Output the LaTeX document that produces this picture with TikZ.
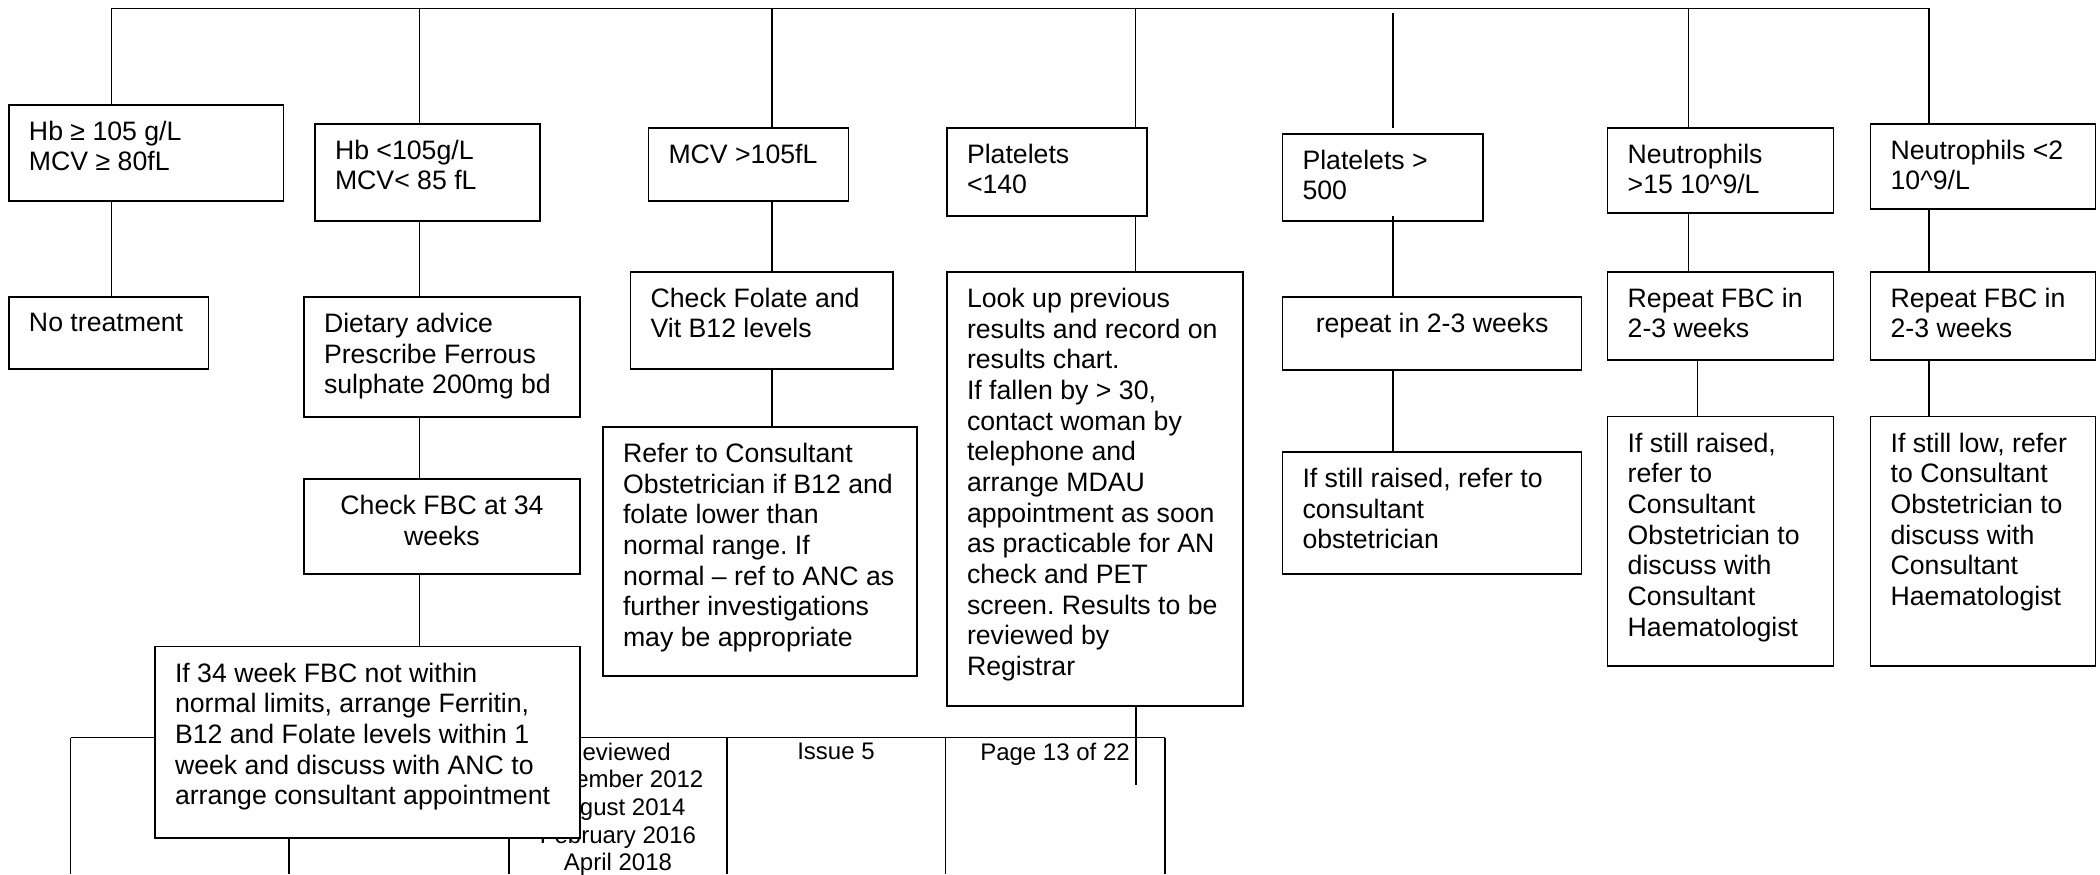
\documentclass[tikz,border=0pt]{standalone}
\usepackage{fontspec}
\setmainfont{Liberation Sans}
\frenchspacing

% a white, outlined box given by its corners (x1,y1) and (x2,y2)
\newcommand\flowbox[5]{%
  \node[box, minimum width={(#4-#2)*0.45pt}, minimum height={(#5-#3)*0.45pt}]
    (#1) at ({(#2+#4)/2},{(#3+#5)/2}) {};}

\begin{document}
\begin{tikzpicture}[x=0.45pt, y=-0.45pt,
  box/.style={rectangle, draw, line width=0.65pt, fill=white, inner sep=0pt, outer sep=0pt},
  txt/.style={inner sep=0pt, outer sep=0pt, align=left, font=\fontsize{12pt}{13.8pt}\selectfont},
  ctxt/.style={txt, align=center},
  foot/.style={inner sep=0pt, outer sep=0pt, align=center, font=\fontsize{10.8pt}{12.4pt}\selectfont},
  link/.style={line width=0.5pt},
  rule/.style={line width=0.65pt}]

\useasboundingbox (0,0) rectangle (2100,874);

% ---- footer table ----
\coordinate (f0) at (70.5,737.7);
\coordinate (f1) at (289,737.7);
\coordinate (f2) at (509,737.7);
\coordinate (f3) at (727,737.7);
\coordinate (f4) at (945.4,737.7);
\coordinate (f5) at (1165,737.7);
\draw[rule] (f0) -- (f5);
\foreach \c in {f0,f1,f2,f3,f4,f5} \draw[rule] (\c) -- (\c |- 0,874);
\node[foot, anchor=north] (rev) at (618,743) {Reviewed\\November 2012\\August 2014\\February 2016\\April 2018};
\node[foot, anchor=north] (iss) at (836,743) {Issue 5};
\node[foot, anchor=north] (pg) at (1055,743) {Page 13 of 22};

% ---- boxes ----
\flowbox{b1}{9}{105}{283.5}{201}
\flowbox{b2}{315}{124}{540}{221}
\flowbox{b3}{648.5}{128}{848.5}{201}
\flowbox{b4}{947}{128}{1147}{216}
\flowbox{b5}{1282.5}{134}{1483}{221}
\flowbox{b6}{1607.7}{128}{1833.7}{213}
\flowbox{b7}{1870.6}{124}{2095.5}{209}

\flowbox{c1}{9}{297}{208.5}{369}
\flowbox{c2}{304}{297}{580}{417}
\flowbox{c3}{630.6}{272}{893}{369}
\flowbox{c4}{947}{272}{1243}{706}
\flowbox{c5}{1282.5}{297}{1581.7}{370}
\flowbox{c6}{1607.7}{272}{1833.7}{360}
\flowbox{c7}{1870.6}{272}{2095.5}{360}

\flowbox{d2}{304}{479}{580}{574}
\flowbox{d3}{603}{427}{917}{676}
\flowbox{d5}{1282.5}{452}{1581.7}{574}
\flowbox{d6}{1607.7}{416.7}{1833.7}{666}
\flowbox{d7}{1870.6}{416.7}{2095.5}{666}

\flowbox{e2}{155}{646.7}{580}{838}

% ---- box texts ----
\node[txt, anchor=north west] (b1t) at ([shift={(20,16)}]b1.north west) {Hb ≥ 105 g/L\\MCV ≥ 80fL};
\node[txt, anchor=north west] (b2t) at ([shift={(20,16)}]b2.north west) {Hb <105g/L\\MCV< 85 fL};
\node[txt, anchor=north west] (b3t) at ([shift={(20,16)}]b3.north west) {MCV >105fL};
\node[txt, anchor=north west] (b4t) at ([shift={(20,16)}]b4.north west) {Platelets\\<140};
\node[txt, anchor=north west] (b5t) at ([shift={(20,16)}]b5.north west) {Platelets >\\500};
\node[txt, anchor=north west] (b6t) at ([shift={(20,16)}]b6.north west) {Neutrophils\\>15 10\^{}9/L};
\node[txt, anchor=north west] (b7t) at ([shift={(20,16)}]b7.north west) {Neutrophils <2\\10\^{}9/L};

\node[txt, anchor=north west] (c1t) at ([shift={(20,16)}]c1.north west) {No treatment};
\node[txt, anchor=north west] (c2t) at ([shift={(20,16)}]c2.north west) {Dietary advice\\Prescribe Ferrous\\sulphate 200mg bd};
\node[txt, anchor=north west] (c3t) at ([shift={(20,16)}]c3.north west) {Check Folate and\\Vit B12 levels};
\node[txt, anchor=north west] (c4t) at ([shift={(20,16)}]c4.north west) {Look up previous\\results and record on\\results chart.\\If fallen by > 30,\\contact woman by\\telephone and\\arrange MDAU\\appointment as soon\\as practicable for AN\\check and PET\\screen. Results to be\\reviewed by\\Registrar};
\node[ctxt, anchor=north] (c5t) at ([shift={(0,16)}]c5.north) {repeat in 2-3 weeks};
\node[txt, anchor=north west] (c6t) at ([shift={(20,16)}]c6.north west) {Repeat FBC in\\2-3 weeks};
\node[txt, anchor=north west] (c7t) at ([shift={(20,16)}]c7.north west) {Repeat FBC in\\2-3 weeks};

\node[ctxt, anchor=north] (d2t) at ([shift={(0,16)}]d2.north) {Check FBC at 34\\weeks};
\node[txt, anchor=north west] (d3t) at ([shift={(20,16)}]d3.north west) {Refer to Consultant\\Obstetrician if B12 and\\folate lower than\\normal range. If\\normal – ref to ANC as\\further investigations\\may be appropriate};
\node[txt, anchor=north west] (d5t) at ([shift={(20,16)}]d5.north west) {If still raised, refer to\\consultant\\obstetrician};
\node[txt, anchor=north west] (d6t) at ([shift={(20,16)}]d6.north west) {If still raised,\\refer to\\Consultant\\Obstetrician to\\discuss with\\Consultant\\Haematologist};
\node[txt, anchor=north west] (d7t) at ([shift={(20,16)}]d7.north west) {If still low, refer\\to Consultant\\Obstetrician to\\discuss with\\Consultant\\Haematologist};

\node[txt, anchor=north west] (e2t) at ([shift={(20,16)}]e2.north west) {If 34 week FBC not within\\normal limits, arrange Ferritin,\\B12 and Folate levels within 1\\week and discuss with ANC to\\arrange consultant appointment};

% ---- top bar and branches ----
\coordinate (t1) at (111.6,8.3);
\coordinate (t2) at (419.6,8.3);
\coordinate (t3) at (772,8.3);
\coordinate (t4) at (1135.7,8.3);
\coordinate (t6) at (1688.5,8.3);
\coordinate (t7) at (1929,8.3);
\draw[rule] (t1) -- (t7);

\draw[link] (t1) -- (t1 |- b1.north);
\draw[link] (b1.south -| t1) -- (c1.north -| t1);

\draw[link] (t2) -- (t2 |- b2.north);
\draw[link] (b2.south -| t2) -- (c2.north -| t2);
\draw[link] (c2.south -| t2) -- (d2.north -| t2);
\draw[link] (d2.south -| t2) -- (e2.north -| t2);

\draw[link] (t3) -- (t3 |- b3.north);
\draw[link] (b3.south -| t3) -- (c3.north -| t3);
\draw[link] (c3.south -| t3) -- (d3.north -| t3);

\draw[link] (t4) -- (t4 |- b4.north);
\draw[link] (b4.south -| t4) -- (c4.north -| t4);
\coordinate (c4end) at (1136,785);
\draw[link] (c4.south -| c4end) -- (c4end);

\coordinate (t5a) at (1393,13.3);
\coordinate (t5b) at (1393,128);
\draw[link] (t5a) -- (t5b);
\coordinate (p5) at (1393,216);
\draw[link] (p5) -- (c5.north -| p5);
\draw[link] (c5.south -| p5) -- (d5.north -| p5);

\draw[link] (t6) -- (t6 |- b6.north);
\draw[link] (b6.south -| t6) -- (c6.north -| t6);
\coordinate (q6) at (1697.7,400);
\draw[link] (c6.south -| q6) -- (d6.north -| q6);

\draw[link] (t7) -- (t7 |- b7.north);
\draw[link] (b7.south -| t7) -- (c7.north -| t7);
\draw[link] (c7.south -| t7) -- (d7.north -| t7);

\end{tikzpicture}
\end{document}
